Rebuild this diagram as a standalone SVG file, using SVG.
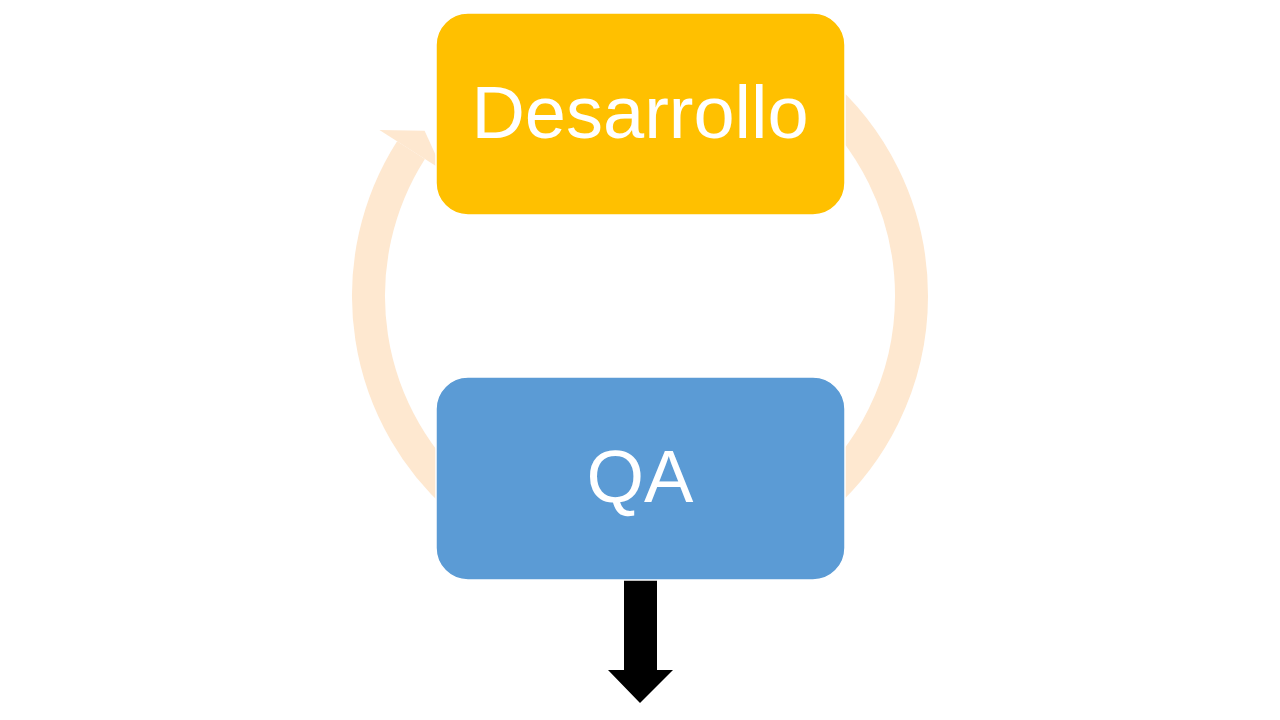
<svg xmlns="http://www.w3.org/2000/svg" width="1280" height="720" viewBox="0 0 1280 720">
  <style>
    .ring { fill: none; stroke: #FEE8D0; stroke-width: 33; stroke-linecap: butt; }
    .head { fill: #FEE8D0; }
    .box { stroke: #FFFFFF; stroke-width: 1.5; }
    .label { fill: #FFFFFF; font-family: "Liberation Sans", Arial, sans-serif; text-anchor: middle; }
  </style>
  <rect x="0" y="0" width="1280" height="720" fill="#FFFFFF"/>
  <g id="connectors">
    <path class="ring" d="M814.5,88 A271.5,271.5 0 0 1 814.5,504"/>
    <path class="ring" d="M465.5,504 A271.5,271.5 0 0 1 411,150.1"/>
    <polygon class="head" points="379.4,130 424.6,130.7 442.6,170.3"/>
    <polygon fill="#000000" points="624,580 657,580 657,670 673,670 640,703 608,670 624,670"/>
  </g>
  <g id="node-desarrollo">
    <rect class="box" x="436" y="13" width="409" height="202" rx="32" ry="32" fill="#FFC000"/>
    <text class="label" x="640" y="138" font-size="74">Desarrollo</text>
  </g>
  <g id="node-qa">
    <rect class="box" x="436" y="377" width="409" height="203" rx="32" ry="32" fill="#5B9BD5"/>
    <text class="label" x="640" y="502" font-size="74">QA</text>
  </g>
</svg>
